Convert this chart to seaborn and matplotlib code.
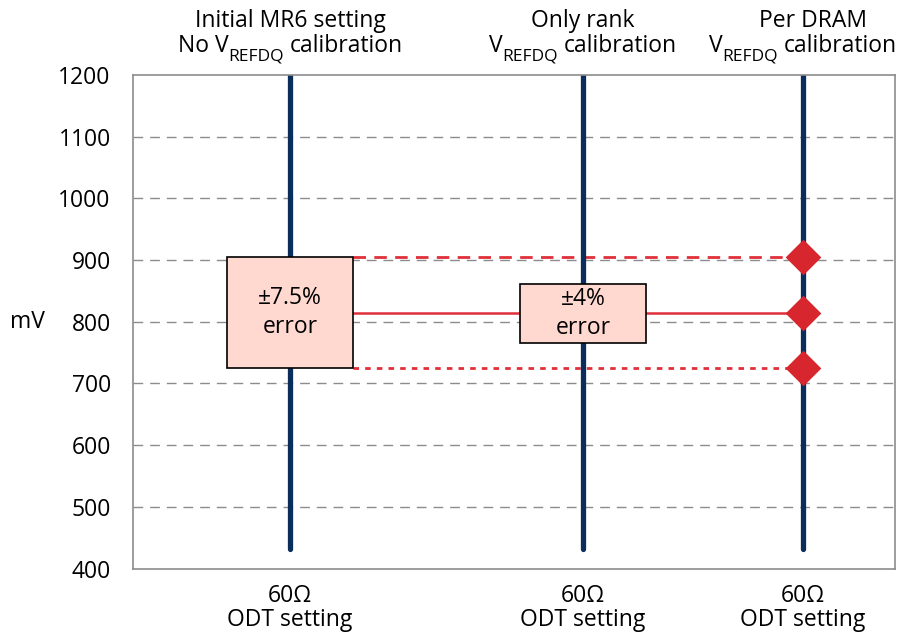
import matplotlib
matplotlib.use("Agg")
import matplotlib.pyplot as plt
import matplotlib.transforms as mtransforms
from matplotlib.patches import Rectangle
import seaborn as sns
import pandas as pd

# ---- data ----
header_line1 = ["Initial MR6 setting", "Only rank", "Per DRAM"]
header_line2_pre = ["No V", "V", "V"]
header_line2_sub = ["REFDQ", "REFDQ", "REFDQ"]
header_line2_post = ["calibration", "calibration", "calibration"]
tick_labels = ["60Ω\nODT setting", "60Ω\nODT setting", "60Ω\nODT setting"]
x_pos = [0.0, 1.0, 1.75]
vline_bottom = [432, 432, 432]
vline_top = [1200, 1200, 1200]
vref_upper = 905
vref_nominal = 814
vref_lower = 725
diamond_values = [905, 814, 725]
box_low = [725, 765]
box_high = [905, 861]
box_text = ["±7.5%\nerror", "±4%\nerror"]
y_ticks = [400, 500, 600, 700, 800, 900, 1000, 1100, 1200]

# ---- style ----
sns.set_theme(style="white")
plt.rcParams['font.family'] = ['Open Sans', 'DejaVu Sans']
plt.rcParams['text.color'] = 'black'
plt.rcParams['xtick.labelcolor'] = 'black'
plt.rcParams['ytick.labelcolor'] = 'black'

navy = "#0B2D5B"
red = "#E0303A"
diamond_red = "#D8262E"
box_fill = "#FFD8D0"
grid_gray = "#8C8C8C"
FS = 16.5
SUB_FS = 12.5

fig = plt.figure(figsize=(9.01, 6.32), dpi=100)
ax = fig.add_axes([133/901, 1 - 568.5/632, (895 - 133)/901, (568.5 - 75)/632])

ax.set_xlim(-0.536, 2.065)
ax.set_ylim(400, 1200)

# grid lines
for yv in y_ticks[1:-1]:
    ax.axhline(yv, color=grid_gray, lw=1.0, dashes=(7, 5), zorder=0)

# vertical navy lines
vdf = pd.DataFrame({
    "x": [x for x in x_pos for _ in range(2)],
    "y": [v for b, t in zip(vline_bottom, vline_top) for v in (b, t)],
    "g": [i for i in range(3) for _ in range(2)],
})
sns.lineplot(data=vdf, x="x", y="y", units="g", estimator=None, sort=False,
             color=navy, lw=3.8, ax=ax, zorder=2)

box_half = 0.215
start_x = x_pos[0] + box_half
# red reference lines
hl_up = pd.DataFrame({"x": [start_x, x_pos[2]], "y": [vref_upper] * 2})
hl_nom = pd.DataFrame({"x": [start_x, x_pos[2]], "y": [vref_nominal] * 2})
hl_low = pd.DataFrame({"x": [start_x, x_pos[2]], "y": [vref_lower] * 2})
sns.lineplot(data=hl_up, x="x", y="y", color=red, lw=2.0, ax=ax, zorder=1)
ax.lines[-1].set_dashes((4.5, 3))
sns.lineplot(data=hl_nom, x="x", y="y", color=red, lw=1.8, ax=ax, zorder=1)
sns.lineplot(data=hl_low, x="x", y="y", color=red, lw=2.0, ax=ax, zorder=1)
ax.lines[-1].set_dashes((2, 2.2))

# boxes
for i in range(2):
    ax.add_patch(Rectangle((x_pos[i] - box_half, box_low[i]), 2 * box_half,
                           box_high[i] - box_low[i], facecolor=box_fill,
                           edgecolor="black", lw=1.2, zorder=4))
    ax.text(x_pos[i], (box_low[i] + box_high[i]) / 2, box_text[i], ha="center",
            va="center", fontsize=FS, linespacing=1.25, zorder=5, color="black")

# diamonds
ddf = pd.DataFrame({"x": [x_pos[2]] * 3, "y": diamond_values})
sns.scatterplot(data=ddf, x="x", y="y", marker="D", s=330, color=diamond_red,
                edgecolor=diamond_red, linewidth=0, ax=ax, zorder=6)

# axes styling
for sp in ax.spines.values():
    sp.set_color("#8C8C8C")
    sp.set_linewidth(1.2)
ax.set_yticks(y_ticks)
ax.set_yticklabels([str(v) for v in y_ticks], fontsize=FS)
ax.set_xticks(x_pos)
ax.set_xticklabels(tick_labels, fontsize=FS, linespacing=1.0)
ax.tick_params(axis="y", length=0, pad=16)
ax.tick_params(axis="x", length=0, pad=11)
ax.set_xlabel("")
ax.set_ylabel("")
ax.text(-0.138, 800, "mV", transform=mtransforms.blended_transform_factory(ax.transAxes, ax.transData),
        ha="center", va="center", fontsize=FS)

# headers
trans = mtransforms.blended_transform_factory(ax.transData, fig.transFigure)
header1_x = [0.0, 1.0, 1.785]
header2_x = [0.0, 1.0, 1.75]
for i in range(3):
    fig.text(header1_x[i], 1 - 27/632, header_line1[i], transform=trans,
             ha="center", va="baseline", fontsize=FS)

renderer = fig.canvas.get_renderer()
H = fig.bbox.height
for i in range(3):
    cx = ax.transData.transform((header2_x[i], 0))[0]
    base = H - 52
    pieces = [(header_line2_pre[i], FS, 0, 0.0), (header_line2_sub[i], SUB_FS, -8.5, 5.5),
              (header_line2_post[i], FS, 0, 0)]
    texts = []
    gaps = []
    for s, fs, dy, gap in pieces:
        t = fig.text(0, base + dy, s, transform=mtransforms.IdentityTransform(),
                     ha="left", va="baseline", fontsize=fs)
        texts.append(t)
        gaps.append(gap)
    widths = [t.get_window_extent(renderer).width for t in texts]
    total = sum(widths) + sum(gaps)
    x = cx - total / 2
    for t, w, g in zip(texts, widths, gaps):
        t.set_x(x)
        x += w + g

fig.savefig("out.png", dpi=100)
